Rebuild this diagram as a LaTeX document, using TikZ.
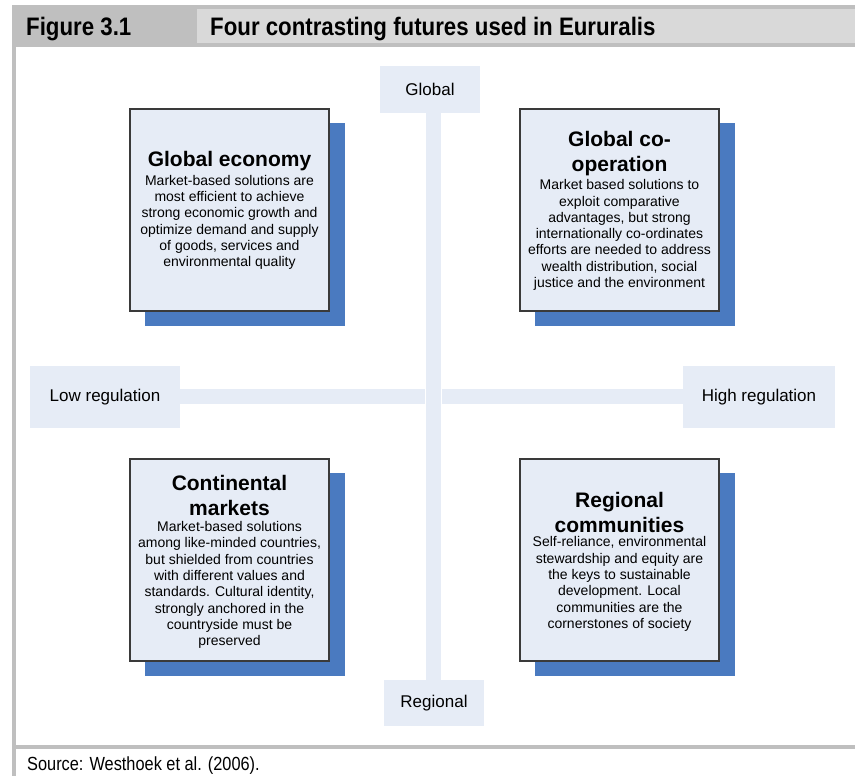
\documentclass[tikz,border=0pt]{standalone}
\usepackage{fontspec}
\setmainfont{Liberation Sans}
\newfontfamily\narrow[FakeStretch=0.86]{Liberation Sans}
\newfontfamily\hdrfont[FakeStretch=0.88]{Liberation Sans}
\definecolor{hdrdark}{HTML}{BFBFBF}
\definecolor{hdrlight}{HTML}{D9D9D9}
\definecolor{paleblue}{HTML}{E6ECF6}
\definecolor{shadowblue}{HTML}{4A7AC0}
\definecolor{boxline}{HTML}{3A3A3A}
\begin{document}
\begin{tikzpicture}[x=1pt,y=-1pt,
  panel/.style={rectangle, draw=boxline, line width=1.1pt, fill=paleblue,
    minimum width=199pt, minimum height=202pt, inner sep=0pt},
  shade/.style={rectangle, fill=shadowblue, minimum width=200pt,
    minimum height=203pt, inner sep=0pt},
  ttl/.style={align=center, inner sep=0pt, font=\fontsize{21}{25}\selectfont\bfseries},
  bodytext/.style={align=center, inner sep=0pt, font=\fontsize{14}{16.3}\selectfont},
  axislabel/.style={rectangle, fill=paleblue, inner sep=0pt, font=\fontsize{17}{20}\selectfont},
  axisbar/.style={draw=paleblue, line width=15pt},
  hdrtext/.style={anchor=west, inner sep=0pt, font=\hdrfont\fontsize{25.3}{30}\selectfont\bfseries}
]
\useasboundingbox (0,0) rectangle (855,776);

% frame and header
\fill[hdrdark] (12,5) rectangle (855,47);
\fill[hdrlight] (197,9) rectangle (855,43);
\fill[hdrdark] (12,47) rectangle (16,776);
\fill[hdrdark] (12,745) rectangle (855,749);
\node[hdrtext] (fignum) at (26,29) {Figure 3.1};
\node[hdrtext] (figtitle) at (210,29) {Four contrasting futures used in Eururalis};
\node[anchor=west, inner sep=0pt, font=\narrow\fontsize{19}{22}\selectfont] (source) at (27,766) {Source: Westhoek et al. (2006).};

% axis labels
\node[axislabel, minimum width=100pt, minimum height=47pt] (glob) at (430,89.5) {Global};
\node[axislabel, minimum width=100pt, minimum height=46pt] (reg) at (434,703) {Regional};
\node[axislabel, minimum width=150pt, minimum height=62pt] (low) at (105,397) {Low regulation};
\node[axislabel, minimum width=152pt, minimum height=62pt] (high) at (759,397) {High regulation};
\coordinate (vx) at (433.5,396.5);
\coordinate (hl) at (425,396.5);
\coordinate (hr) at (442,396.5);

% axes
\draw[axisbar] (glob.south -| vx) -- (reg.north -| vx);
\draw[axisbar] (low.east |- hl) -- (hl);
\draw[axisbar] (hr) -- (high.west |- hr);

% quadrant boxes
\node[shade] (geS) at (245,224.5) {};
\node[panel] (ge) at (229.5,210) {};
\node[ttl] (geT) at (229.5,161) {Global economy};
\node[bodytext] (geB) at (229.5,222.5) {Market-based solutions are\\most efficient to achieve\\strong economic growth and\\optimize demand and supply\\of goods, services and\\environmental quality};

\node[shade] (gcS) at (635,224.5) {};
\node[panel] (gc) at (619.5,210) {};
\node[ttl] (gcT) at (619.5,153.5) {Global co-\\operation};
\node[bodytext] (gcB) at (619.5,235) {Market based solutions to\\exploit comparative\\advantages, but strong\\internationally co-ordinates\\efforts are needed to address\\wealth distribution, social\\justice and the environment};

\node[shade] (cmS) at (245,574.5) {};
\node[panel] (cm) at (229.5,560) {};
\node[ttl] (cmT) at (229.5,495.5) {Continental\\markets};
\node[bodytext] (cmB) at (229.5,585) {Market-based solutions\\among like-minded countries,\\but shielded from countries\\with different values and\\standards. Cultural identity,\\strongly anchored in the\\countryside must be\\preserved};

\node[shade] (rcS) at (635,574.5) {};
\node[panel] (rc) at (619.5,560) {};
\node[ttl] (rcT) at (619.5,512) {Regional\\communities};
\node[bodytext] (rcB) at (619.5,584) {Self-reliance, environmental\\stewardship and equity are\\the keys to sustainable\\development. Local\\communities are the\\cornerstones of society};
\end{tikzpicture}
\end{document}
